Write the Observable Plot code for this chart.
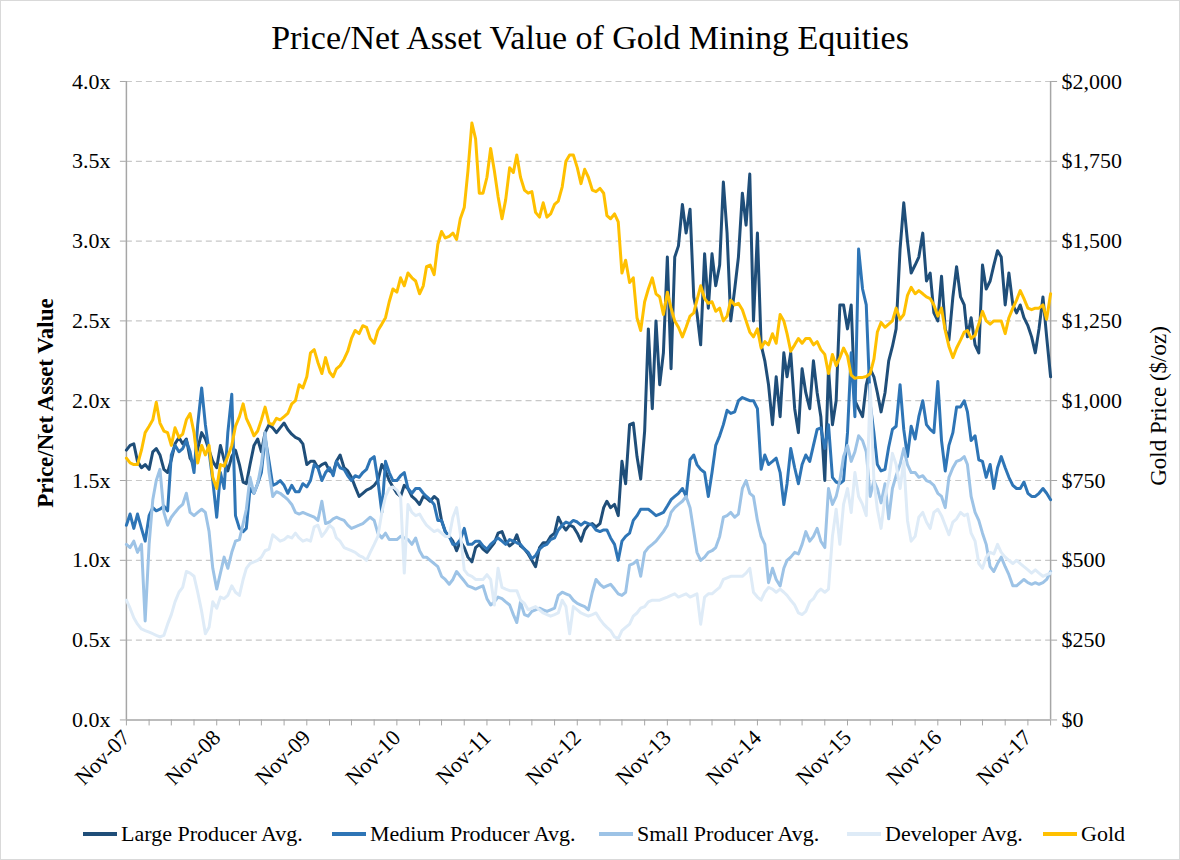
<!DOCTYPE html>
<html><head><meta charset="utf-8">
<script src="https://cdn.jsdelivr.net/npm/d3@7"></script>
<script src="https://cdn.jsdelivr.net/npm/@observablehq/plot@0.6"></script>
<style>
html,body{margin:0;padding:0;background:#fff;}
#frame{position:relative;width:1178px;height:858px;border:1px solid #d9d9d9;overflow:hidden;font-family:"Liberation Serif","DejaVu Serif",serif;color:#000;}
#title{position:absolute;top:17px;left:0;width:100%;text-align:center;font-size:34px;line-height:40px;}
#chart{position:absolute;left:-1px;top:61px;}
.ytitle{position:absolute;width:400px;height:30px;line-height:30px;text-align:center;font-size:23px;transform:rotate(-90deg);white-space:nowrap;}
.item{position:absolute;top:818px;height:30px;display:flex;align-items:center;white-space:nowrap;font-size:22px;}
.sw{display:inline-block;width:34px;height:4px;margin-right:4px;}
</style></head><body>
<div id="frame">
<div id="title">Price/Net Asset Value of Gold Mining Equities</div>
<div id="chart"></div>
<div class="ytitle" style="left:-155px;top:387px;font-weight:bold;">Price/Net Asset Value</div>
<div class="ytitle" style="left:958px;top:390px;">Gold Price ($/oz)</div>
<div id="legend"></div>
</div>
<script>
// Semi-monthly observations starting 1 Nov 2007 (1st and 16th of each month)
const startDate = new Date(Date.UTC(2007, 10, 1));
const seriesNames = ["Large Producer Avg.", "Medium Producer Avg.", "Small Producer Avg.", "Developer Avg.", "Gold"];
const seriesColors = ["#1f4e79", "#2e75b6", "#9dc3e6", "#deebf7", "#ffc000"];

const large = [
1.69,1.72,1.73,1.62,1.58,1.60,1.57,1.68,1.70,1.66,
1.57,1.55,1.63,1.73,1.77,1.73,1.76,1.64,1.60,1.70,
1.80,1.76,1.69,1.62,1.58,1.72,1.63,1.56,1.65,1.69,
1.60,1.49,1.48,1.60,1.72,1.76,1.68,1.80,1.85,1.83,
1.80,1.83,1.86,1.82,1.79,1.77,1.76,1.73,1.60,1.62,
1.62,1.58,1.60,1.61,1.56,1.55,1.62,1.66,1.58,1.56,
1.52,1.46,1.40,1.42,1.44,1.45,1.47,1.50,1.60,1.56,
1.50,1.46,1.42,1.40,1.47,1.45,1.40,1.38,1.35,1.40,
1.39,1.37,1.40,1.38,
1.25,1.18,1.15,1.12,1.06,1.12,1.08,1.02,0.99,1.08,
1.10,1.07,1.05,1.08,1.11,1.17,1.18,1.12,1.09,1.11,
1.16,1.09,1.07,1.04,1.00,0.96,1.08,1.11,1.11,1.15,
1.17,1.27,1.22,1.19,1.22,1.21,1.17,1.12,1.19,1.22,
1.23,1.21,1.23,1.33,1.37,1.33,1.35,1.28,1.62,1.48,
1.85,1.86,1.65,1.51,1.81,
2.45,1.95,2.50,2.10,2.30,2.90,2.20,2.90,2.97,3.23,
3.05,3.20,2.65,2.55,2.35,2.92,2.58,2.92,2.72,2.85,
3.37,3.05,2.50,2.70,2.90,
3.30,3.10,3.42,2.50,3.05,2.35,2.25,2.10,1.85,2.15,
1.90,2.30,2.15,2.30,1.95,1.80,2.20,2.05,1.95,2.25,
2.05,1.90,1.50,2.20,1.85,2.00,2.60,2.60,2.45,2.60,
2.00,1.95,
1.90,2.10,2.20,2.15,2.05,1.93,2.05,2.25,2.34,2.45,
2.95,3.24,3.00,2.80,2.85,2.90,3.05,2.75,2.80,2.55,
2.50,2.78,2.45,2.38,2.65,2.84,2.65,2.60,2.40,2.52,
2.35,2.30,2.85,2.70,2.75,2.85,2.94,2.90,2.60,2.80,
2.60,2.55,2.60,2.52,2.47,2.40,2.30,2.45,2.65,2.40,
2.15
];

const medium = [
1.22,1.29,1.20,1.29,1.20,1.12,1.28,1.33,1.31,1.32,
1.34,1.31,1.66,1.72,1.68,1.70,1.75,1.68,1.55,1.85,
2.08,1.85,1.68,1.50,1.27,1.55,1.45,1.80,2.04,1.28,
1.20,1.18,1.20,1.45,1.42,1.48,1.55,1.77,1.62,1.47,
1.48,1.50,1.47,1.42,1.47,1.43,1.43,1.48,1.46,1.50,
1.60,1.58,1.50,1.55,1.58,1.53,1.62,1.58,1.57,1.53,
1.50,1.53,1.52,1.55,1.57,1.63,1.65,1.50,1.30,1.62,
1.55,1.50,1.50,1.53,1.55,1.45,1.42,1.45,1.45,1.42,
1.40,1.38,1.35,1.25,
1.25,1.18,1.15,1.10,1.10,1.13,1.20,1.10,1.10,1.12,
1.12,1.09,1.07,1.10,1.12,1.14,1.12,1.10,1.13,1.12,
1.11,1.10,1.07,1.05,1.01,1.03,1.07,1.09,1.10,1.13,
1.14,1.19,1.22,1.24,1.23,1.25,1.24,1.22,1.24,1.23,
1.22,1.19,1.18,1.19,1.19,1.14,1.10,1.00,1.12,1.15,
1.17,1.25,1.28,1.32,1.32,1.32,1.30,1.28,1.29,1.30,
1.34,1.38,1.40,1.42,1.45,1.40,1.63,1.66,1.60,1.57,
1.55,1.40,1.55,1.72,1.78,1.85,1.94,1.92,1.93,2.00,
2.02,2.01,2.00,2.00,1.95,1.57,1.66,1.60,1.62,1.64,
1.55,1.35,1.48,1.70,1.58,1.48,1.60,1.66,1.62,1.72,
1.82,1.83,1.70,1.85,1.52,1.49,1.48,1.50,1.80,2.30,
1.90,2.95,
2.70,2.60,1.98,1.80,1.60,1.56,1.57,1.71,1.82,1.84,
2.10,1.82,1.65,1.84,1.76,1.90,2.00,1.85,1.82,1.80,
2.12,1.75,1.56,1.72,1.80,1.96,1.96,2.00,1.93,1.75,
1.78,1.63,1.62,1.52,1.60,1.45,1.58,1.65,1.58,1.52,
1.47,1.45,1.45,1.49,1.42,1.40,1.40,1.42,1.45,1.42,
1.38
];

const small = [
1.10,1.08,1.12,1.05,1.10,0.62,1.10,1.38,1.50,1.57,
1.30,1.22,1.27,1.30,1.33,1.35,1.42,1.30,1.28,1.30,
1.32,1.30,1.18,0.95,0.82,0.92,1.02,0.95,1.05,1.12,
1.13,1.23,1.32,1.52,1.42,1.48,1.60,1.80,1.55,1.40,
1.43,1.42,1.40,1.38,1.35,1.30,1.29,1.30,1.29,1.28,
1.27,1.25,1.37,1.23,1.24,1.26,1.27,1.26,1.25,1.22,
1.20,1.21,1.22,1.23,1.25,1.27,1.25,1.17,1.14,1.17,
1.13,1.13,1.13,1.15,1.14,1.13,1.10,1.14,1.06,1.02,
1.02,1.00,0.98,0.96,
0.90,0.88,0.85,0.88,0.93,0.90,0.87,0.84,0.83,0.82,
0.83,0.84,0.76,0.72,0.74,0.77,0.76,0.74,0.72,0.66,
0.61,0.74,0.66,0.65,0.68,0.69,0.70,0.69,0.68,0.69,
0.70,0.78,0.80,0.79,0.78,0.75,0.73,0.72,0.71,0.69,
0.80,0.88,0.85,0.83,0.84,0.85,0.82,0.79,0.78,0.80,
0.97,0.98,1.00,0.90,1.05,1.08,1.10,1.12,1.15,1.18,
1.22,1.30,1.33,1.35,1.37,1.40,1.33,1.18,1.05,1.00,
1.02,1.05,1.06,1.08,1.15,1.27,1.28,1.30,1.27,1.29,
1.45,1.50,1.42,1.40,1.25,1.15,1.10,0.86,0.95,0.88,
0.84,0.95,1.00,1.02,1.05,1.04,1.10,1.18,1.12,1.15,
1.20,1.12,1.08,1.45,1.35,1.40,1.50,1.65,1.72,1.62,
1.68,1.78,
1.75,1.68,1.40,1.50,1.45,1.36,1.48,1.26,1.45,1.53,
1.60,1.70,1.60,1.55,1.55,1.52,1.53,1.50,1.49,1.47,
1.42,1.40,1.33,1.52,1.58,1.62,1.63,1.65,1.60,1.40,
1.30,1.25,1.17,1.10,0.96,0.93,0.98,1.02,0.96,0.91,
0.84,0.84,0.86,0.88,0.86,0.85,0.86,0.85,0.86,0.88,
0.93
];

const developer = [
0.75,0.70,0.64,0.60,0.57,0.56,0.55,0.54,0.53,0.52,
0.53,0.60,0.66,0.74,0.80,0.83,0.93,0.92,0.90,0.80,
0.68,0.54,0.58,0.74,0.70,0.77,0.76,0.78,0.84,0.80,
0.78,0.88,0.95,0.98,0.99,1.00,1.02,1.06,1.07,1.16,
1.14,1.12,1.13,1.15,1.14,1.17,1.14,1.12,1.13,1.12,
1.21,1.22,1.15,1.18,1.22,1.20,1.14,1.12,1.08,1.07,
1.06,1.05,1.03,1.02,1.00,1.05,1.10,1.15,1.30,1.40,
1.45,1.46,1.44,1.40,0.92,1.35,1.30,1.28,1.29,1.25,
1.22,1.20,1.18,1.19,
1.17,1.15,1.15,1.27,1.33,1.17,0.94,0.91,0.90,0.88,
0.88,0.88,0.91,0.88,0.72,0.95,0.83,0.82,0.81,0.81,
0.81,0.75,0.73,0.69,0.70,0.71,0.69,0.67,0.66,0.65,
0.66,0.67,0.75,0.71,0.54,0.71,0.69,0.67,0.66,0.65,
0.66,0.67,0.63,0.60,0.58,0.56,0.52,0.51,0.56,0.58,
0.60,0.65,0.67,0.70,0.71,0.74,0.75,0.75,0.75,0.76,
0.77,0.78,0.79,0.77,0.78,0.79,0.77,0.78,0.79,0.60,
0.77,0.79,0.79,0.81,0.83,0.88,0.89,0.90,0.90,0.90,
0.90,0.92,0.95,0.80,0.77,0.75,0.80,0.83,0.82,0.80,
0.82,0.80,0.78,0.75,0.72,0.67,0.66,0.68,0.74,0.76,
0.80,0.82,0.80,0.82,1.15,1.32,1.10,1.35,1.45,1.30,
1.55,1.40,
1.35,1.28,2.10,1.50,1.32,1.20,1.40,1.50,1.67,1.60,
1.45,1.62,1.25,1.12,1.15,1.27,1.30,1.24,1.20,1.30,
1.32,1.28,1.22,1.16,1.24,1.26,1.30,1.28,1.29,1.17,
1.12,0.98,0.95,1.02,1.05,1.04,1.10,1.05,1.02,1.00,
0.98,1.00,0.98,0.96,0.94,0.92,0.94,0.92,0.90,0.91,
0.92
];

const gold = [
820,805,800,800,845,900,920,940,995,930,
905,900,860,915,885,895,940,960,900,805,
860,830,860,760,725,800,795,825,860,920,
950,990,945,920,890,905,940,980,930,925,
945,940,950,960,990,1000,1050,1040,1075,1150,
1160,1120,1085,1135,1090,1075,1100,1110,1130,1155,
1195,1220,1210,1235,1230,1195,1180,1220,1240,1260,
1310,1350,1340,1385,1360,1400,1385,1375,1335,1360,
1420,1425,1395,1490,
1530,1510,1515,1525,1505,1570,1605,1720,1870,1820,
1650,1650,1700,1790,1720,1640,1570,1630,1730,1715,
1770,1700,1660,1650,1655,1590,1575,1620,1575,1585,
1615,1625,1670,1750,1770,1770,1730,1680,1725,1700,
1660,1655,1665,1650,1580,1570,1585,1560,1400,1440,
1370,1385,1260,1220,1310,1350,1385,1335,1325,1270,
1340,1290,1250,1230,1200,1230,1265,1275,1315,1360,
1320,1305,1310,1280,1290,1250,1265,1315,1300,1305,
1285,1250,1215,1200,1225,1165,1185,1175,1210,1180,
1270,1250,1210,1155,1175,1195,1180,1195,1195,1175,
1185,1160,1145,1085,1145,1110,1135,1165,1140,1080,
1070,1073,1073,1076,1085,1130,1215,1245,1230,1240,
1250,1290,1255,1270,1330,1355,1335,1345,1335,1325,
1320,1300,1265,1290,1220,1170,1135,1165,1190,1215,
1220,1195,1205,1240,1280,1250,1240,1250,1250,1250,
1210,1260,1290,1315,1345,1320,1290,1285,1290,1290,
1300,1255,1335
];

const ratioTicks = [0, 0.5, 1, 1.5, 2, 2.5, 3, 3.5, 4];
const goldPerRatio = 500; // $2,000 on the right axis aligns with 4.0x on the left
const xLabelYears = [2007, 2008, 2009, 2010, 2011, 2012, 2013, 2014, 2015, 2016, 2017];

function dateAt(i) {
  return d3.utcDay.offset(d3.utcMonth.offset(startDate, Math.floor(i / 2)), (i % 2) * 15);
}
const n = Math.max(large.length, medium.length, small.length, developer.length, gold.length);
const endDate = dateAt(n - 1);

function rows(values, name, scale = 1) {
  return values.map((v, i) => ({date: dateAt(i), value: v / scale, series: name}));
}
const seriesData = [
  rows(large, seriesNames[0]),
  rows(medium, seriesNames[1]),
  rows(small, seriesNames[2]),
  rows(developer, seriesNames[3]),
  rows(gold, seriesNames[4], goldPerRatio)
];

const novTicks = xLabelYears.map(y => new Date(Date.UTC(y, 10, 1)));
const quarterTicks = d3.range(0, 60).map(k => d3.utcMonth.offset(startDate, 3 * k)).filter(d => d <= endDate);

const chart = Plot.plot({
  width: 1180,
  height: 743,
  marginLeft: 126,
  marginRight: 129,
  marginTop: 19,
  marginBottom: 85,
  style: {fontFamily: "Liberation Serif, serif", fontSize: "22px", color: "#000", background: "transparent", overflow: "visible"},
  x: {type: "utc", domain: [startDate, endDate]},
  y: {domain: [0, 4]},
  marks: [
    Plot.gridY(ratioTicks.filter(d => d > 0), {stroke: "#c8c8c8", strokeOpacity: 1, strokeDasharray: "6,4", strokeWidth: 1.2}),
    Plot.ruleY([0], {stroke: "#a6a6a6", strokeWidth: 1.5}),
    Plot.ruleX([startDate, endDate], {stroke: "#a6a6a6", strokeWidth: 1.5}),
    Plot.axisY(ratioTicks, {anchor: "left", tickFormat: d => d.toFixed(1) + "x", tickSize: 6, tickPadding: 10, stroke: "#a6a6a6", label: null}),
    Plot.axisY(ratioTicks, {anchor: "right", tickFormat: d => "$" + d3.format(",")(d * goldPerRatio), tickSize: 6, tickPadding: 5, stroke: "#a6a6a6", label: null}),
    Plot.axisX(quarterTicks, {tickFormat: () => "", tickSize: 6, stroke: "#a6a6a6", label: null}),
    Plot.axisX(novTicks, {tickFormat: d3.utcFormat("%b-%y"), tickSize: 0, tickPadding: 14, tickRotate: -45, label: null}),
    ...seriesData.map((data, k) => Plot.line(data, {x: "date", y: "value", stroke: seriesColors[k], strokeWidth: 3, strokeLinejoin: "round"}))
  ]
});
document.getElementById("chart").appendChild(chart);

const legendX = [82, 331, 598, 846, 1042];
const legend = document.getElementById("legend");
seriesNames.forEach((name, k) => {
  const item = document.createElement("div");
  item.className = "item";
  item.style.left = legendX[k] + "px";
  const sw = document.createElement("span");
  sw.className = "sw";
  sw.style.background = seriesColors[k];
  item.appendChild(sw);
  item.appendChild(document.createTextNode(name));
  legend.appendChild(item);
});
</script>
</body></html>
